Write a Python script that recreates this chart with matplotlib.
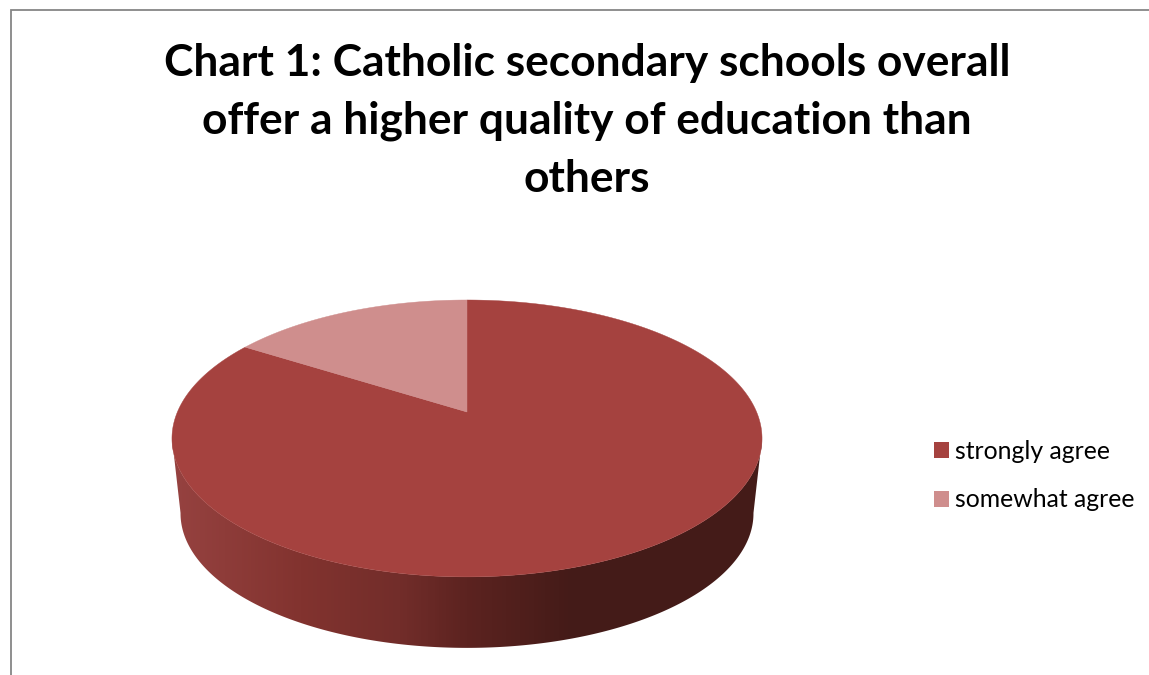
import numpy as np
import matplotlib
matplotlib.use("Agg")
import matplotlib.pyplot as plt
from matplotlib.colors import LinearSegmentedColormap
from matplotlib.patches import Patch, Polygon

# Survey shares
categories = ["strongly agree", "somewhat agree"]
shares = [84, 16]
title = ("Chart 1: Catholic secondary schools overall\n"
         "offer a higher quality of education than\nothers")

slice_colors = ["#a5423f", "#cf8e8d"]
W, H = 1149, 675

# Perspective geometry of the disc, in pixels
APEX_X, APEX_Y = 467.0, 412.0
SCALE_X, SCALE_Y, TILT = 289.6, 133.4, 0.191
MID_Y = 438.4
DEPTH_Y, DEPTH_SCALE = 75.0, 0.971


def rim(theta):
    """Project clockwise-from-top angles (radians) on to the top face."""
    u, v = np.sin(theta), np.cos(theta)
    w = 1 + TILT * v
    return APEX_X + SCALE_X * u / w, APEX_Y - SCALE_Y * v / w


def lower_rim(theta):
    x, y = rim(theta)
    return APEX_X + (x - APEX_X) * DEPTH_SCALE, MID_Y + DEPTH_Y + (y - MID_Y) * DEPTH_SCALE


fig = plt.figure(figsize=(W / 100, H / 100), dpi=100)
ax = fig.add_axes([0, 0, 1, 1])
ax.set_xlim(0, W)
ax.set_ylim(H, 0)
ax.axis("off")

# Chart frame, cut off by the edge of the figure
ax.plot([W, 11, 11], [10, 10, H], color="#868686", lw=1.3, solid_joinstyle="miter")

# Side wall: horizontal shading clipped to the outline between both rims
front = np.radians(np.linspace(100.8, 259.2, 300))
xt_r, yt_r = rim(front)
xl, yl = lower_rim(front)
outline = np.column_stack([np.r_[xt_r, xl[::-1]], np.r_[yt_r, yl[::-1]]])
wall = Polygon(outline, closed=True, transform=ax.transData, fc="none", ec="none")
ax.add_patch(wall)
shade_stops = [(172, "#964240"), (300, "#82332f"), (400, "#722d2a"),
               (467, "#5c2320"), (573, "#441b18"), (762, "#441b18")]
span = shade_stops[-1][0] - shade_stops[0][0]
cmap = LinearSegmentedColormap.from_list(
    "wall", [((x - 172) / span, c) for x, c in shade_stops])
img = ax.imshow(np.linspace(0, 1, 590)[None, :], cmap=cmap, aspect="auto",
                extent=(172, 762, 660, 430), zorder=1)
img.set_clip_path(wall)
ax.set_xlim(0, W)
ax.set_ylim(H, 0)

# Top face: one wedge per category, clockwise from twelve o'clock
ends = np.cumsum(shares) / np.sum(shares) * 2 * np.pi
starts = np.r_[0, ends[:-1]]
for a0, a1, col in zip(starts, ends, slice_colors):
    t = np.linspace(a0, a1, 400)
    x, y = rim(t)
    ax.fill(np.r_[APEX_X, x], np.r_[APEX_Y, y], color=col, lw=0.3, zorder=2)

ax.text(587, 121, title, ha="center", va="center", fontsize=31.9,
        fontweight="bold", family="Lato", color="black", linespacing=1.55)

handles = [Patch(fc=c, ec="none", label=n) for c, n in zip(slice_colors, categories)]
ax.legend(handles=handles, loc="upper left", bbox_to_anchor=(934 / W, 1 - 440 / H),
          frameon=False, prop={"family": "Lato", "size": 17.8},
          handlelength=0.62, handleheight=0.62, handletextpad=0.22,
          labelspacing=1.03, borderpad=0, borderaxespad=0, labelcolor="black")

fig.savefig("out.png", dpi=100)
